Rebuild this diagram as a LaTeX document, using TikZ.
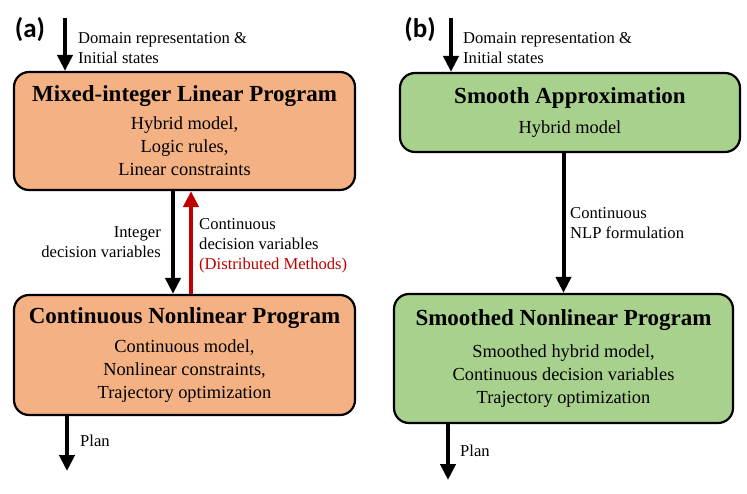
\documentclass[tikz,border=0pt]{standalone}
\usepackage{fontspec}
\setmainfont{Liberation Serif}
\newfontfamily\panelfont{Carlito}
\usetikzlibrary{arrows.meta}
\definecolor{mipfill}{HTML}{F4B183}
\definecolor{smoothfill}{HTML}{A9D18E}
\definecolor{distred}{HTML}{C00000}
\newcommand{\boxtitle}{\fontsize{23}{28}\selectfont\bfseries}
\begin{document}
\begin{tikzpicture}[
              x = 1pt, y = -1pt,
              box/.style = {draw, line width=2.2pt, rounded corners=15pt,
                            align=center, inner sep=0pt,
                            font=\fontsize{18.4}{23}\selectfont},
              flow/.style = {line width=4pt, -{Triangle[width=15pt,length=16pt]}},
              lbl/.style = {inner sep=0pt, font=\fontsize{16.6}{20}\selectfont},
              panel/.style = {inner sep=0pt, font=\panelfont\fontsize{27}{30}\selectfont\bfseries}
            ]
            \useasboundingbox (0,0) rectangle (747,493);
            % (a) MILP + NLP
            \node[panel] (pa) at (30,30) {(a)};
            \node[box, fill=mipfill, minimum width=341pt, minimum height=118pt] (mip) at (184.5,131)
              {{\boxtitle Mixed-integer Linear Program}\\[5pt]
               Hybrid model,\\ Logic rules,\\ Linear constraints};
            \node[box, fill=mipfill, minimum width=341pt, minimum height=120pt] (cnlp) at (184.5,355)
              {{\boxtitle Continuous Nonlinear Program}\\[6pt]
               Continuous model,\\ Nonlinear constraints,\\ Trajectory optimization};
            \coordinate (ain) at (65,18);
            \coordinate (aout) at (67,471);
            \draw[flow] (ain) -- (ain |- mip.north);
            \node[lbl, anchor=west, align=left] (ainlbl) at (78,48) {Domain representation \&\\ Initial states};
            \draw[flow] ([xshift=-11.5pt]mip.south) -- ([xshift=-11.5pt]cnlp.north);
            \draw[flow, distred] ([xshift=6.5pt]cnlp.north) -- ([xshift=6.5pt]mip.south);
            \node[lbl, anchor=east, align=right] (intlbl) at (161,242) {Integer\\ decision variables};
            \node[lbl, anchor=west, align=left] (contlbl) at (199,246)
              {Continuous\\ decision variables\\ \textcolor{distred}{(Distributed Methods)}};
            \draw[flow] (aout |- cnlp.south) -- (aout);
            \node[lbl, anchor=west] (aplan) at (80,441) {Plan};
            % (b) smooth approximation
            \node[panel] (pb) at (420,30) {(b)};
            \node[box, fill=smoothfill, minimum width=340pt, minimum height=79pt] (sa) at (570,112.5)
              {{\boxtitle Smooth Approximation}\\[7pt] Hybrid model};
            \node[box, fill=smoothfill, minimum width=339pt, minimum height=129pt] (snlp) at (563.5,358.5)
              {{\boxtitle Smoothed Nonlinear Program}\\[9pt]
               Smoothed hybrid model,\\ Continuous decision variables\\ Trajectory optimization};
            \coordinate (bin) at (451,18);
            \coordinate (bout) at (448,480);
            \draw[flow] (bin) -- (bin |- sa.north);
            \node[lbl, anchor=west, align=left] (binlbl) at (463,48) {Domain representation \&\\ Initial states};
            \draw[flow] (sa.south -| snlp.north) -- (snlp.north);
            \node[lbl, anchor=west, align=left] (nlplbl) at (570,223) {Continuous\\ NLP formulation};
            \draw[flow] (bout |- snlp.south) -- (bout);
            \node[lbl, anchor=west] (bplan) at (460,451) {Plan};
          \end{tikzpicture}
\end{document}
